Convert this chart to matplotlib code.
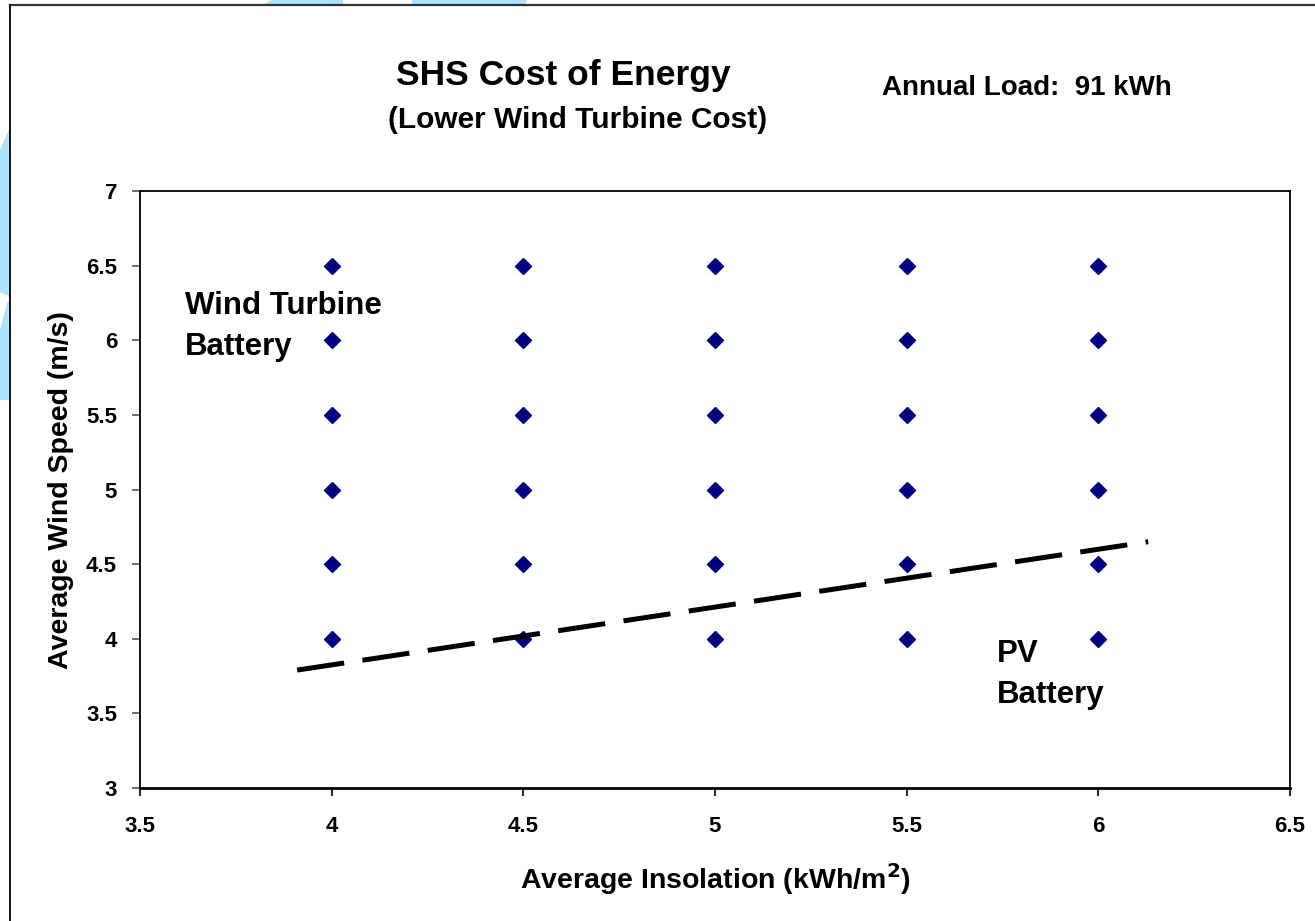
import matplotlib
matplotlib.use("Agg")
import matplotlib.pyplot as plt
from matplotlib.patches import Polygon
from matplotlib.lines import Line2D

plt.rcParams['font.family'] = ['Liberation Sans', 'DejaVu Sans']
plt.rcParams['font.weight'] = 'bold'

# Data
insolation = [4, 4.5, 5, 5.5, 6]
wind_speeds = [4, 4.5, 5, 5.5, 6, 6.5]
boundary_x = [3.91, 6.13]
boundary_y = [3.79, 4.65]
xticks = [3.5, 4, 4.5, 5, 5.5, 6, 6.5]
yticks = [3, 3.5, 4, 4.5, 5, 5.5, 6, 6.5, 7]

W, H = 1315, 921
fig = plt.figure(figsize=(W / 100, H / 100), dpi=100)

def px(x, y):
    return (x / W, 1 - y / H)

# background decorations (light blue slide shapes)
blue = '#ADE3FF'
shapes = [
    [(263, 5), (272, 0), (343, 0), (343, 5)],
    [(412, 5), (412, 0), (527, 0), (525, 5)],
    [(0, 150), (10, 127), (10, 297), (0, 292)],
    [(7, 303), (10, 300), (10, 400), (0, 400), (0, 330)],
]
for s in shapes:
    fig.patches.append(Polygon([px(*p) for p in s], closed=True, transform=fig.transFigure,
                               facecolor=blue, edgecolor='none', zorder=0))

# outer border
fig.lines.append(Line2D([10 / W, 1], [1 - 5 / H, 1 - 5 / H], transform=fig.transFigure,
                        color='#333333', lw=1.6))
fig.lines.append(Line2D([10 / W, 10 / W], [0, 1 - 5 / H], transform=fig.transFigure,
                        color='#111111', lw=1.4))

ax = fig.add_axes([140 / W, 1 - 788 / H, (1290 - 140) / W, (788 - 191) / H])
xs = [x for x in insolation for _ in wind_speeds]
ys = [y for _ in insolation for y in wind_speeds]
ax.plot(xs, ys, linestyle='none', marker='D', markersize=8.5, color='#000080', zorder=3)
ax.plot(boundary_x, boundary_y, color='black', lw=3.6, dashes=(9.5, 3.7),
        solid_capstyle='butt', dash_capstyle='butt', zorder=4)

ax.set_xlim(3.5, 6.5)
ax.set_ylim(3, 7)
ax.set_xticks(xticks)
ax.set_yticks(yticks)
ax.set_xticklabels([f'{v:g}' for v in xticks])
ax.set_yticklabels([f'{v:g}' for v in yticks])
ax.tick_params(direction='out', length=5.5, width=1.2, labelsize=16)
ax.tick_params(axis='x', pad=15)
ax.tick_params(axis='y', pad=11, colors='#555555', labelcolor='black')
for lbl in ax.get_xticklabels() + ax.get_yticklabels():
    lbl.set_fontweight('bold')
for sp in ax.spines.values():
    sp.set_linewidth(1.3)
    sp.set_color('black')
ax.spines['bottom'].set_linewidth(2.0)

ax.set_xlabel('Average Insolation (kWh/m$^\\mathbf{2}$)', fontsize=20.5, fontweight='bold')
ax.set_ylabel('Average Wind Speed (m/s)', fontsize=20.5, fontweight='bold')
ax.xaxis.set_label_coords(0.5, -0.122)
ax.yaxis.set_label_coords(-0.057, 0.499)

ax.text(3.617, 6.33, 'Wind Turbine\nBattery', fontsize=22.5, fontweight='bold',
        ha='left', va='top', linespacing=1.47)
ax.text(5.736, 4.0, 'PV\nBattery', fontsize=22.5, fontweight='bold',
        ha='left', va='top', linespacing=1.47)

fig.text(563 / W, 1 - 75 / H, 'SHS Cost of Energy', fontsize=25.5, fontweight='bold',
         ha='center', va='center')
fig.text(578 / W, 1 - 120 / H, '(Lower Wind Turbine Cost)', fontsize=21.5, fontweight='bold',
         ha='center', va='center')
fig.text(1027 / W, 1 - 88 / H, 'Annual Load:  91 kWh', fontsize=20, fontweight='bold',
         ha='center', va='center')

fig.savefig('out.png', dpi=100)
